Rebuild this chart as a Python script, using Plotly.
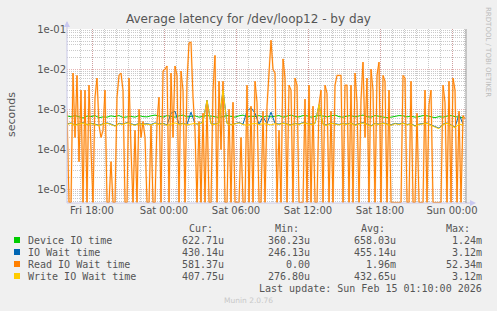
import datetime as dt
import plotly.graph_objects as go

# ---------------- data ----------------
START = dt.datetime(2026, 2, 13, 15, 55)

# Read IO wait time, seconds, every 10 min
read_io = [
    9e-4, 0, 0, 8e-3, 2e-4, 7e-3, 5e-5, 3e-3, 0, 3e-3,
    0, 4e-3, 1e-4, 0, 2e-3, 6e-3, 4e-4, 2e-4, 3e-4, 3e-3,
    0, 0, 5e-5, 0, 0, 2e-3, 7e-3, 8e-3, 3e-3, 0,
    0, 6e-3, 1e-4, 0, 3e-4, 0, 1e-3, 2e-4, 5e-4, 2e-4,
    0, 0, 4e-4, 0, 0, 5e-4, 2e-3, 0, 9e-3, 1e-2,
    1.2e-2, 0, 8e-3, 2e-4, 1.2e-2, 7e-3, 0, 9e-3, 3e-3, 0,
    5e-3, 4.5e-2, 4.7e-2, 2e-3, 3e-4, 0, 5e-4, 0, 8e-4, 0,
    1.5e-3, 0, 0, 3e-3, 2.2e-2, 0, 5e-3, 1e-4, 5e-3, 0,
    0, 1e-3, 0, 1.5e-3, 0, 0, 0, 2e-4, 0, 0,
    4e-3, 0, 1.2e-3, 0, 5e-3, 1.5e-3, 0, 0, 9e-4, 0,
    1.2e-3, 8e-3, 5.234e-2, 1e-2, 8e-3, 0, 3e-4, 0, 1.8e-2, 6e-3,
    0, 4e-3, 3e-3, 0, 6e-3, 4e-3, 0, 0, 0, 1.8e-3,
    0, 4e-3, 0, 1.2e-3, 0, 0, 1.3e-3, 3e-3, 0, 4e-3,
    2.5e-3, 0, 9e-4, 0, 4e-3, 7e-3, 7e-3, 7e-3, 0, 4e-3,
    4e-3, 0, 4e-3, 0, 8e-3, 1.5e-3, 0, 1.7e-3, 1.5e-2, 2e-4,
    6e-3, 0, 1e-2, 3e-3, 0, 7e-3, 1.5e-2, 0, 7e-3, 5e-3,
    0, 3e-3, 0, 0, 0, 0, 0, 0, 7e-3, 6e-3,
    0, 0, 5e-3, 0, 0, 8e-4, 0, 0, 0, 3e-3,
    0, 1.3e-3, 3e-3, 0, 0, 0, 0, 0, 4e-3, 1.5e-3,
    0, 5e-3, 0, 6e-3, 3e-3, 0, 9e-4, 0, 7e-4, 5.81e-4,
]

# microseconds, every 20 min
device_io_us = [
    690, 650, 700, 640, 610, 680, 660, 700, 620, 650,
    640, 690, 660, 700, 630, 650, 670, 640, 700, 660,
    650, 690, 720, 680, 640, 700, 660, 640, 690, 720,
    650, 670, 690, 640, 660, 700, 680, 650, 630, 660,
    700, 670, 640, 690, 720, 650, 680, 660, 700, 640,
    690, 650, 670, 700, 640, 680, 720, 660, 650, 700,
    690, 640, 660, 700, 680, 650, 690, 720, 660, 640,
    680, 700, 650, 690, 720, 660, 640, 700, 680, 650,
    620, 640, 660, 700, 690, 650, 680, 640, 660, 700,
    690, 650, 620, 660, 640, 680, 700, 660, 640, 623,
]
io_wait_us = [
    430, 460, 410, 440, 470, 420, 450, 430, 400, 440,
    460, 430, 390, 450, 430, 470, 440, 410, 450, 430,
    440, 420, 460, 430, 450, 410, 800, 900, 430, 450,
    420, 850, 440, 430, 490, 1700, 440, 430, 460, 3120,
    450, 420, 440, 470, 430, 900, 1100, 800, 430, 650,
    440, 850, 450, 430, 460, 440, 410, 450, 430, 470,
    440, 430, 450, 1300, 430, 410, 460, 440, 420, 450,
    430, 460, 410, 440, 470, 430, 390, 450, 430, 460,
    440, 410, 450, 430, 460, 420, 440, 390, 430, 450,
    460, 410, 370, 340, 430, 460, 410, 360, 750, 430,
]
write_io_us = [
    420, 450, 400, 430, 460, 410, 440, 420, 390, 430,
    450, 420, 380, 440, 420, 460, 430, 400, 440, 420,
    430, 410, 450, 420, 440, 400, 430, 460, 420, 440,
    410, 430, 450, 420, 480, 1700, 430, 420, 450, 3000,
    440, 410, 430, 460, 420, 400, 430, 450, 420, 440,
    430, 410, 440, 420, 450, 430, 400, 440, 420, 460,
    430, 420, 440, 1300, 420, 400, 450, 430, 410, 440,
    420, 450, 400, 430, 460, 420, 380, 440, 420, 450,
    430, 400, 440, 420, 450, 410, 430, 380, 420, 440,
    450, 400, 360, 330, 420, 450, 400, 350, 430, 408,
]

series_names = ["Device IO time", "IO Wait time", "Read IO Wait time", "Write IO Wait time"]
series_colors = ["#00CC00", "#0066B3", "#FF8000", "#FFCC00"]
cur_vals = ["622.71u", "430.14u", "581.37u", "407.75u"]
min_vals = ["360.23u", "246.13u", "0.00", "276.80u"]
avg_vals = ["658.03u", "455.14u", "1.96m", "432.65u"]
max_vals = ["1.24m", "3.12m", "52.34m", "3.12m"]

x_tick_times = [dt.datetime(2026, 2, 13, 18), dt.datetime(2026, 2, 14, 0), dt.datetime(2026, 2, 14, 6),
                dt.datetime(2026, 2, 14, 12), dt.datetime(2026, 2, 14, 18), dt.datetime(2026, 2, 15, 0)]
x_tick_text = ["Fri 18:00", "Sat 00:00", "Sat 06:00", "Sat 12:00", "Sat 18:00", "Sun 00:00"]
y_tick_vals = [1e-5, 1e-4, 1e-3, 1e-2, 1e-1]
y_tick_text = ["1e-05", "1e-04", "1e-03", "1e-02", "1e-01"]

# ---------------- layout constants ----------------
W, H = 497, 311
L, R, T, B = 67, 466, 29, 203
YMIN, YMAX = -5.33, -1.0
X0 = dt.datetime(2026, 2, 13, 15, 55)
X1 = dt.datetime(2026, 2, 15, 1, 10)
MAJOR_GRID = "rgba(210,120,120,0.55)"
MINOR_GRID = "rgba(150,150,150,0.5)"
DOT = "1px,1px"


def px(x):
    return (x - L) / (R - L)


def py(y):
    return (B - y) / (B - T)


t10 = [START + dt.timedelta(minutes=10 * i) for i in range(len(read_io))]
t20 = [START + dt.timedelta(minutes=20 * i) for i in range(len(device_io_us))]
floor = 10 ** (YMIN + 0.01)
read_plot = [v if v > 0 else floor for v in read_io]

fig = go.Figure()
fig.add_trace(go.Scatter(x=t20, y=[v * 1e-6 for v in device_io_us], mode="lines",
                         line=dict(color=series_colors[0], width=1), name=series_names[0]))
fig.add_trace(go.Scatter(x=t20, y=[v * 1e-6 for v in io_wait_us], mode="lines",
                         line=dict(color=series_colors[1], width=1), name=series_names[1]))
fig.add_trace(go.Scatter(x=t10, y=read_plot, mode="lines",
                         line=dict(color="rgba(255,150,40,0.3)", width=2), hoverinfo="skip"))
fig.add_trace(go.Scatter(x=t10, y=read_plot, mode="lines",
                         line=dict(color=series_colors[2], width=1), name=series_names[2]))
fig.add_trace(go.Scatter(x=t20, y=[v * 1e-6 for v in write_io_us], mode="lines",
                         line=dict(color=series_colors[3], width=1), name=series_names[3]))

minor_y = [m * 10 ** e for e in range(-6, -1) for m in range(2, 10)]

fig.update_layout(
    width=W, height=H,
    margin=dict(l=L, r=W - R, t=T, b=H - B, pad=0),
    paper_bgcolor="#F0F0F0", plot_bgcolor="#FFFFFF",
    showlegend=False,
    font=dict(family="DejaVu Sans", size=10, color="#555555"),
    xaxis=dict(
        type="date", range=[X0, X1],
        tickmode="array", tickvals=x_tick_times, ticktext=x_tick_text,
        showgrid=True, gridcolor=MAJOR_GRID, griddash=DOT, gridwidth=1,
        minor=dict(tickmode="linear", tick0=dt.datetime(2026, 2, 13, 18), dtick=3600 * 1000,
                   showgrid=True, gridcolor=MINOR_GRID, griddash=DOT, gridwidth=1),
        ticks="", showline=False, zeroline=False,
        tickfont=dict(family="DejaVu Sans", size=10, color="#555555"),
    ),
    yaxis=dict(
        type="log", range=[YMIN, YMAX],
        tickmode="array", tickvals=y_tick_vals, ticktext=y_tick_text,
        showgrid=True, gridcolor=MAJOR_GRID, griddash=DOT, gridwidth=1,
        minor=dict(tickmode="array", tickvals=minor_y,
                   showgrid=True, gridcolor=MINOR_GRID, griddash=DOT, gridwidth=1),
        ticks="", showline=False, zeroline=False,
        tickfont=dict(family="DejaVu Sans", size=10, color="#555555"),
    ),
)

shapes = []
# axes lines with arrows
shapes.append(dict(type="line", xref="paper", yref="paper", x0=0, x1=0, y0=0, y1=py(22),
                   line=dict(color="#C8C8E8", width=1)))
shapes.append(dict(type="path", xref="paper", yref="paper",
                   path=f"M {px(64)} {py(27)} L {px(70)} {py(27)} L {px(67)} {py(21)} Z",
                   fillcolor="#C8C8F0", line=dict(width=0)))
shapes.append(dict(type="line", xref="paper", yref="paper", x0=0, x1=px(472), y0=0, y1=0,
                   line=dict(color="#C8C8E8", width=1)))
shapes.append(dict(type="path", xref="paper", yref="paper",
                   path=f"M {px(470)} {py(200)} L {px(470)} {py(206)} L {px(476)} {py(203)} Z",
                   fillcolor="#C8C8F0", line=dict(width=0)))
shapes.append(dict(type="line", xref="paper", yref="paper", x0=1, x1=1, y0=0, y1=1,
                   line=dict(color="#999999", width=1)))

annotations = []
annotations.append(dict(text="Average latency for /dev/loop12 - by day", xref="paper", yref="paper",
                        x=px(248), y=py(19), xanchor="center", yanchor="middle", showarrow=False,
                        font=dict(family="DejaVu Sans", size=12, color="#555555")))
annotations.append(dict(text="seconds", xref="paper", yref="paper", x=px(12), y=py(115),
                        xanchor="center", yanchor="middle", textangle=-90, showarrow=False,
                        font=dict(family="DejaVu Sans", size=11, color="#555555")))
annotations.append(dict(text="RRDTOOL / TOBI OETIKER", xref="paper", yref="paper", x=px(488), y=py(52),
                        xanchor="center", yanchor="middle", textangle=90, showarrow=False,
                        font=dict(family="DejaVu Sans", size=7, color="#BBBBBB")))

mono = dict(family="DejaVu Sans Mono", size=10, color="#555555")
headers = ["Cur:", "Min:", "Avg:", "Max:"]
header_x = [201, 287, 373, 458]
for hx, ht in zip(header_x, headers):
    annotations.append(dict(text=ht, xref="paper", yref="paper", x=px(hx), y=py(228),
                            xanchor="center", yanchor="middle", showarrow=False, font=mono))
col_right = [226, 312, 398, 484]
row_y = [240, 252, 264, 276]
for i, name in enumerate(series_names):
    shapes.append(dict(type="rect", xref="paper", yref="paper",
                       x0=px(14), x1=px(20), y0=py(row_y[i] + 3), y1=py(row_y[i] - 3),
                       fillcolor=series_colors[i], line=dict(width=0)))
    annotations.append(dict(text=name, xref="paper", yref="paper", x=px(26), y=py(row_y[i]),
                            xanchor="left", yanchor="middle", showarrow=False, font=mono))
    for cx, vals in zip(col_right, [cur_vals, min_vals, avg_vals, max_vals]):
        annotations.append(dict(text=vals[i], xref="paper", yref="paper", x=px(cx), y=py(row_y[i]),
                                xanchor="right", yanchor="middle", showarrow=False, font=mono))
annotations.append(dict(text="Last update: Sun Feb 15 01:10:00 2026", xref="paper", yref="paper",
                        x=px(484), y=py(288), xanchor="right", yanchor="middle", showarrow=False, font=mono))
annotations.append(dict(text="Munin 2.0.76", xref="paper", yref="paper", x=px(248), y=py(300),
                        xanchor="center", yanchor="middle", showarrow=False,
                        font=dict(family="DejaVu Sans", size=7.5, color="#C8C8C8")))

fig.update_layout(shapes=shapes, annotations=annotations)
fig.write_html("out.html")
